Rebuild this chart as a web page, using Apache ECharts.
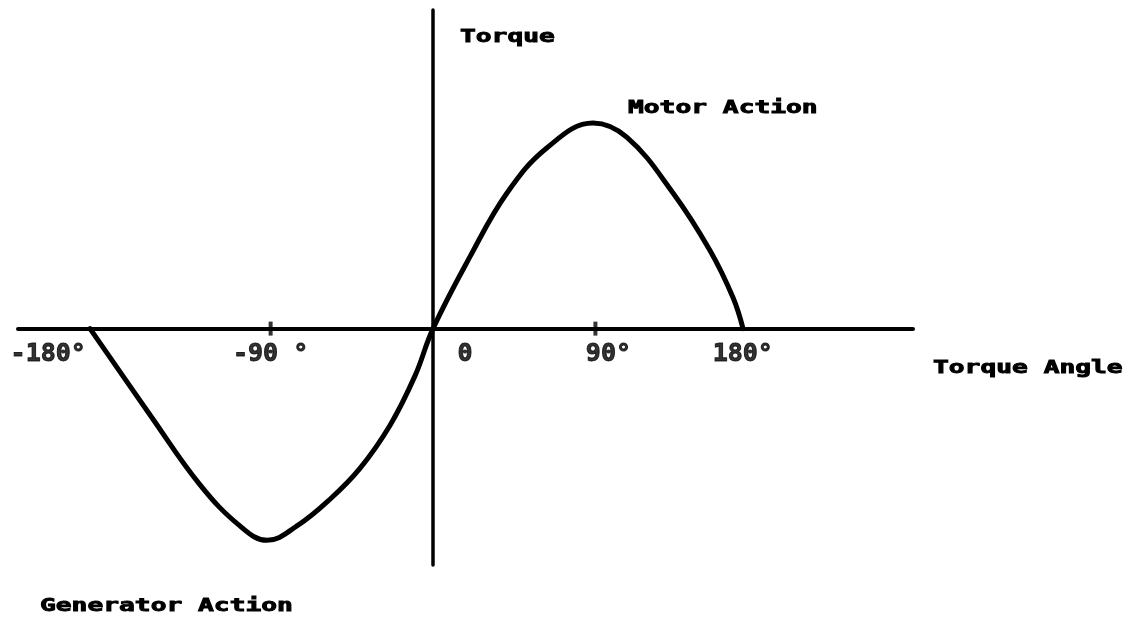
<!DOCTYPE html>
<html>
<head>
<meta charset="utf-8">
<title>Torque Angle</title>
<script src="https://cdn.jsdelivr.net/npm/echarts@6/dist/echarts.min.js"></script>
<style>
  html, body { margin: 0; padding: 0; background: #fff; }
  #main { width: 1141px; height: 627px; }
</style>
</head>
<body>
<div id="main"></div>
<script>
// curve: angle in degrees, torque in units of the peak
var angles = [-190.1, -156.8, -129.1, -107.0, -92.0, -75.4, -57.1, -40.5, -23.8, -10.0, 0,
  20.5, 41.0, 63.2, 88.7, 107.5, 133.0, 153.5, 166.3, 171.8];
var torques = [0, -0.42, -0.76, -0.96, -1.03, -0.96, -0.83, -0.68, -0.47, -0.23, 0,
  0.35, 0.66, 0.88, 1.00, 0.93, 0.66, 0.38, 0.15, 0];

// axis ticks and their labels
var tickValues = [-180, -90, 0, 90, 180];
var tickLabels = ['-180°', '-90 °', '0', '90°', '180°'];
var tickMarks = [-90, 90];

var font = 'DejaVu Sans Mono';
var chart = echarts.init(document.getElementById('main'));

var curveData = angles.map(function (a, i) {
  return [a, torques[i]];
});

// the typed labels don't sit centred under their ticks, nudge them over
var labelShift = [-60, 0, 32, 13, -15];
var labelData = tickValues.map(function (v, i) {
  return { value: [v, 0], label: { offset: [labelShift[i], 26] } };
});

// typewriter text is wide and heavy, so stretch it sideways and give it a stroke
function typed(text, x, y) {
  return {
    type: 'text',
    x: x,
    y: y,
    scaleX: 1.5,
    silent: true,
    style: {
      text: text,
      font: 'bold 17.5px "' + font + '"',
      fill: '#000',
      stroke: '#000',
      lineWidth: 0.9,
      align: 'left',
      verticalAlign: 'middle'
    }
  };
}

var option = {
  animation: false,
  backgroundColor: '#fff',
  grid: { left: 18, right: 228, top: 10, bottom: 62 },
  xAxis: {
    type: 'value',
    min: -230,
    max: 266,
    axisLine: { show: true, onZero: true, lineStyle: { color: '#000', width: 4 } },
    axisTick: { show: false },
    axisLabel: { show: false },
    splitLine: { show: false }
  },
  yAxis: {
    type: 'value',
    min: -1.15,
    max: 1.55,
    axisLine: { show: true, onZero: true, lineStyle: { color: '#000', width: 3.5 } },
    axisTick: { show: false },
    axisLabel: { show: false },
    splitLine: { show: false }
  },
  series: [
    {
      type: 'line',
      data: curveData,
      showSymbol: false,
      smooth: 0.4,
      z: 3,
      lineStyle: { color: '#000', width: 5, cap: 'round', join: 'round' }
    },
    {
      type: 'scatter',
      data: tickMarks.map(function (v) { return [v, 0]; }),
      symbol: 'rect',
      symbolSize: [4, 14],
      itemStyle: { color: '#000' },
      silent: true
    },
    {
      type: 'scatter',
      data: labelData,
      symbolSize: 1,
      itemStyle: { color: 'rgba(0,0,0,0)' },
      silent: true,
      label: {
        show: true,
        position: 'inside',
        formatter: function (p) { return tickLabels[p.dataIndex]; },
        fontFamily: font,
        fontWeight: 'bold',
        fontSize: 25,
        color: '#000',
        textBorderColor: '#000',
        textBorderWidth: 1
      }
    }
  ],
  graphic: [
    typed('Torque', 460, 37),
    typed('Motor Action', 628, 108),
    typed('Torque Angle', 933, 368),
    typed('Generator Action', 40, 606)
  ]
};

chart.setOption(option);
</script>
</body>
</html>
